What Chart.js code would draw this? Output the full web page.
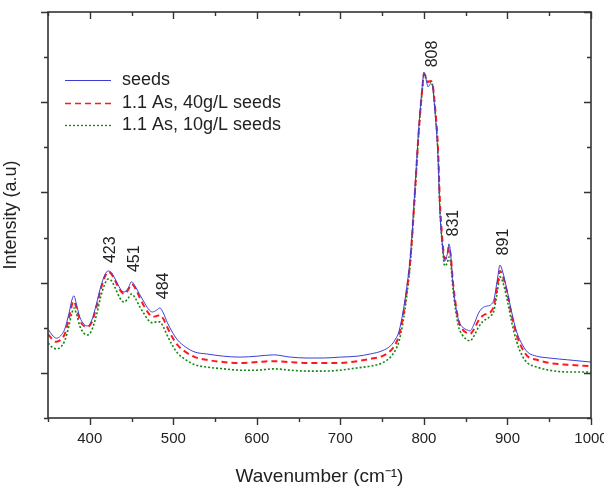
<!DOCTYPE html>
<html>
<head>
<meta charset="utf-8">
<script src="https://cdn.jsdelivr.net/npm/chart.js@4.4.0/dist/chart.umd.min.js"></script>
<style>
  body { margin: 0; background: #fff; }
  #ramanchart { display: block; }
</style>
</head>
<body>
<canvas id="ramanchart" width="604" height="494"></canvas>
<script>
// wavenumbers (cm-1)
const wavenumber = [350,355,360,365,370,375,379,381,384,388,393,397,402,408,413,418,422,426,431,436,441,446,450,455,460,465,470,475,480,484,488,493,498,505,515,526,540,560,580,600,620,640,660,680,700,720,736,750,760,766,770,775,780,784,789,794,798,800,802,805,808,810,813,817,819,822,825,828,830,832,835,841,846,852,855,860,865,870,875,880,884,888,891,894,900,905,911,918,924,935,950,972,1000];

const seeds = [1.97,1.84,1.77,1.82,1.97,2.31,2.64,2.71,2.53,2.24,2.08,2.04,2.15,2.53,2.90,3.17,3.26,3.22,3.06,2.88,2.79,2.88,3.02,2.90,2.73,2.57,2.42,2.35,2.39,2.44,2.33,2.11,1.93,1.73,1.57,1.46,1.42,1.37,1.35,1.37,1.40,1.35,1.33,1.33,1.35,1.37,1.42,1.49,1.60,1.75,1.91,2.35,2.97,3.64,5.01,6.47,7.34,7.67,7.56,7.34,7.41,7.38,6.85,5.74,4.63,3.86,3.48,3.64,3.86,3.64,2.93,2.20,2.02,1.95,1.93,2.08,2.31,2.44,2.48,2.51,2.64,3.08,3.39,3.26,2.79,2.35,1.91,1.62,1.46,1.37,1.33,1.29,1.24];

const as40 = [1.86,1.75,1.69,1.73,1.86,2.20,2.53,2.59,2.44,2.17,2.04,2.02,2.11,2.46,2.84,3.13,3.24,3.19,3.02,2.84,2.75,2.84,2.97,2.86,2.66,2.48,2.33,2.24,2.26,2.28,2.20,2.00,1.82,1.62,1.46,1.35,1.29,1.24,1.22,1.24,1.26,1.24,1.22,1.22,1.22,1.26,1.31,1.37,1.49,1.64,1.82,2.26,2.90,3.57,4.94,6.41,7.29,7.63,7.58,7.45,7.47,7.43,6.96,5.92,4.86,3.97,3.53,3.61,3.79,3.61,2.97,2.20,1.97,1.88,1.86,1.97,2.15,2.26,2.31,2.35,2.51,2.95,3.26,3.17,2.75,2.28,1.84,1.53,1.37,1.29,1.22,1.18,1.15];

const as10 = [1.66,1.57,1.53,1.57,1.71,2.04,2.35,2.44,2.31,2.04,1.88,1.84,1.93,2.28,2.68,2.97,3.08,3.04,2.86,2.66,2.57,2.66,2.75,2.64,2.46,2.31,2.17,2.11,2.13,2.13,2.02,1.82,1.64,1.44,1.29,1.18,1.13,1.09,1.06,1.06,1.09,1.06,1.04,1.04,1.06,1.11,1.15,1.22,1.35,1.51,1.69,2.13,2.79,3.48,4.88,6.36,7.25,7.58,7.56,7.43,7.45,7.41,6.90,5.79,4.70,3.84,3.37,3.44,3.57,3.44,2.82,2.06,1.84,1.73,1.71,1.82,2.00,2.13,2.20,2.26,2.39,2.82,3.13,3.04,2.59,2.13,1.69,1.37,1.22,1.13,1.06,1.02,1.02];

const seriesNames = ["seeds", "1.1 As, 40g/L seeds", "1.1 As, 10g/L seeds"];
const seriesColors = ["#3d3dd6", "#ff1a1a", "#118811"];

// peak labels, placed in data units (centre of the rotated text)
const peakLabels = ["423", "451", "484", "808", "831", "891"];
const peakX = [425, 454, 488, 810, 835, 895];
const peakY = [3.73, 3.53, 2.93, 8.07, 4.32, 3.90];

const xMin = 350, xMax = 1000;
const yMin = 0, yMax = 9;

function toPoints(ys){
    return wavenumber.map((w, i) => ({x: w, y: ys[i]}));
}

const frameColor = "#333333";
const font = "Liberation Sans, Arial, sans-serif";

// frame, mirrored ticks, legend and peak labels
const decor = {
    id: "decor",
    afterDatasetsDraw(chart){
        const ctx = chart.ctx;
        const a = chart.chartArea;
        const xs = chart.scales.x;
        const ys = chart.scales.y;
        ctx.save();
        ctx.strokeStyle = frameColor;
        ctx.lineWidth = 1.6;
        ctx.strokeRect(a.left, a.top, a.right - a.left, a.bottom - a.top);

        ctx.lineWidth = 1.4;
        ctx.beginPath();
        for (let v = xMin; v <= xMax; v += 50){
            const px = Math.round(xs.getPixelForValue(v)) + 0.5;
            const len = (v % 100 === 0) ? 7 : 4;
            ctx.moveTo(px, a.bottom); ctx.lineTo(px, a.bottom + len);
            ctx.moveTo(px, a.top); ctx.lineTo(px, a.top + len);
        }
        for (let v = yMin; v <= yMax; v += 1){
            const py = Math.round(ys.getPixelForValue(v)) + 0.5;
            const len = (v % 2 === 1) ? 7 : 4;
            ctx.moveTo(a.left - len, py); ctx.lineTo(a.left, py);
            ctx.moveTo(a.right - len, py); ctx.lineTo(a.right, py);
        }
        ctx.stroke();

        // legend
        const rows = [80, 103, 125];
        chart.data.datasets.forEach((ds, i) => {
            ctx.save();
            ctx.strokeStyle = seriesColors[i];
            ctx.lineWidth = i === 0 ? 1 : 1.3;
            ctx.setLineDash(ds.borderDash || []);
            ctx.beginPath();
            ctx.moveTo(65, rows[i] + 0.5);
            ctx.lineTo(111, rows[i] + 0.5);
            ctx.stroke();
            ctx.restore();
            ctx.fillStyle = "#222";
            ctx.font = "18px " + font;
            ctx.textBaseline = "middle";
            ctx.textAlign = "left";
            ctx.fillText(ds.label, 122, rows[i]);
        });

        // rotated peak labels
        ctx.fillStyle = "#222";
        ctx.font = "16px " + font;
        ctx.textAlign = "center";
        ctx.textBaseline = "middle";
        for (let i = 0; i < peakLabels.length; i++){
            ctx.save();
            ctx.translate(xs.getPixelForValue(peakX[i]), ys.getPixelForValue(peakY[i]));
            ctx.rotate(-Math.PI / 2);
            ctx.fillText(peakLabels[i], 0, 0);
            ctx.restore();
        }
        ctx.restore();
    }
};

const chart = document.getElementById("ramanchart");
const ramanChart = new Chart(chart, {
    type: "line",
    data: {
        datasets: [
            {
                label: seriesNames[0],
                data: toPoints(seeds),
                borderColor: seriesColors[0],
                borderWidth: 1,
                pointRadius: 0,
                fill: false,
                cubicInterpolationMode: "monotone"
            },
            {
                label: seriesNames[1],
                data: toPoints(as40),
                borderColor: seriesColors[1],
                borderWidth: 2,
                borderDash: [6, 4],
                pointRadius: 0,
                fill: false,
                cubicInterpolationMode: "monotone"
            },
            {
                label: seriesNames[2],
                data: toPoints(as10),
                borderColor: seriesColors[2],
                borderWidth: 1.6,
                borderDash: [2, 2],
                pointRadius: 0,
                fill: false,
                cubicInterpolationMode: "monotone"
            }
        ]
    },
    options: {
        responsive: false,
        animation: false,
        events: [],
        layout: { padding: { top: 12, right: 13, left: 0, bottom: 0 } },
        plugins: {
            legend: { display: false },
            tooltip: { enabled: false }
        },
        scales: {
            x: {
                type: "linear",
                min: xMin,
                max: xMax,
                grid: { display: false },
                border: { display: false },
                ticks: {
                    stepSize: 50,
                    autoSkip: false,
                    maxRotation: 0,
                    padding: 4,
                    color: "#222",
                    font: { family: font, size: 15 },
                    callback: v => (v % 100 === 0 ? String(v) : "")
                },
                title: {
                    display: true,
                    text: "Wavenumber (cm\u207B\u00B9)",
                    color: "#222",
                    font: { family: font, size: 19 },
                    padding: { top: 4, bottom: 6 }
                },
                afterFit: s => { s.height = 76; s.paddingLeft = 0; s.paddingRight = 0; }
            },
            y: {
                min: yMin,
                max: yMax,
                grid: { display: false },
                border: { display: false },
                ticks: { display: false, stepSize: 1 },
                title: {
                    display: true,
                    text: "Intensity (a.u)",
                    color: "#222",
                    font: { family: font, size: 18 },
                    padding: { top: 0, bottom: 0 }
                },
                afterFit: s => { s.width = 48; s.paddingTop = 0; s.paddingBottom = 0; }
            }
        }
    },
    plugins: [decor]
});
</script>
</body>
</html>
